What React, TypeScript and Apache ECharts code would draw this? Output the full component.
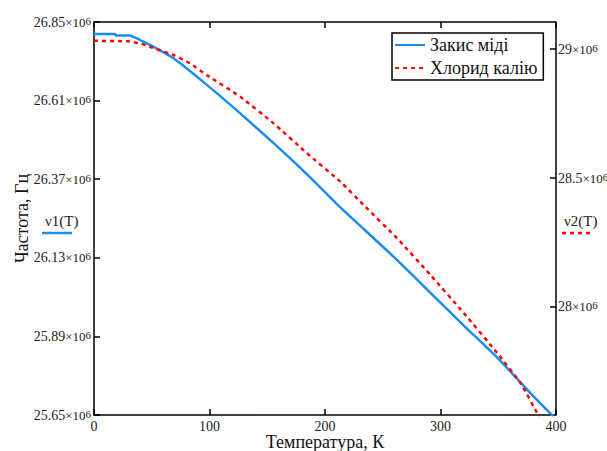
import React, { useEffect, useRef } from "react";
import * as echarts from "echarts";

// Temperature, K
const blueT = [0, 18, 19, 31, 40, 48.6, 68.8, 97.7, 126.6, 155.5, 184.4, 213.3, 233.5, 262.5, 291.3, 320.2, 349.2, 362, 378, 395, 400];
// Закис міді frequency, ×10^6 Hz
const blueV = [26.813, 26.813, 26.809, 26.809, 26.795, 26.78, 26.739, 26.658, 26.571, 26.48, 26.385, 26.284, 26.218, 26.123, 26.023, 25.923, 25.825, 25.777, 25.716, 25.655, 25.636];

const redT = [0, 30, 39.9, 50, 68.8, 83, 97.7, 126.6, 155.5, 184.4, 213.3, 233.5, 262.5, 291.3, 320.2, 349.2, 369.4, 385.3, 392];
// Хлорид калію frequency, ×10^6 Hz
const redV = [29.032, 29.03, 29.022, 29.006, 28.977, 28.945, 28.899, 28.815, 28.712, 28.596, 28.486, 28.395, 28.266, 28.124, 27.976, 27.821, 27.704, 27.575, 27.52];

const xTicks = [0, 100, 200, 300, 400];
const leftTicks = [25.65, 25.89, 26.13, 26.37, 26.61, 26.85];
const rightTicks = [28, 28.5, 29];
const leftRange = [25.65, 26.85];
const rightRange = [27.581, 29.105];

const seriesNames = ["Закис міді", "Хлорид калію"];
const xName = "Температура, К";
const yName = "Частота, Гц";

const SERIF = "'Liberation Serif', 'Times New Roman', serif";
const BLUE = "#1a8cf0";
const RED = "#ff0000";

const richLabel = {
  a: { fontSize: 14, fontFamily: SERIF, color: "#222" },
  b: { fontSize: 13, fontFamily: SERIF, color: "#222" },
  c: { fontSize: 11, fontFamily: SERIF, color: "#222", verticalAlign: "top", lineHeight: 8 },
};

export default function App() {
  const ref = useRef<HTMLDivElement>(null);
  useEffect(() => {
    if (!ref.current) return;
    document.body.style.margin = "0";
    const chart = echarts.init(ref.current, null, { renderer: "svg" });
    const M = 1e6;
    chart.setOption({
      animation: false,
      backgroundColor: "#fff",
      grid: { left: 94, right: 51, top: 22, bottom: 36, containLabel: false, outerBoundsMode: "none" },
      legend: {
        left: 392,
        top: 33,
        orient: "vertical",
        data: seriesNames,
        borderColor: "#000",
        borderWidth: 1.5,
        borderRadius: 0,
        padding: [2, 6, 2, 2],
        itemGap: 3,
        itemWidth: 30,
        itemHeight: 14,
        itemStyle: { opacity: 0 },
        textStyle: { fontSize: 18, fontFamily: SERIF, color: "#111", lineHeight: 20 },
      },
      xAxis: [
        {
          type: "value",
          min: 0,
          max: 400,
          interval: 100,
          name: xName,
          nameLocation: "middle",
          nameGap: 19,
          nameMoveOverlap: false,
          nameTextStyle: { fontSize: 18, fontFamily: SERIF, color: "#111", lineHeight: 16 },
          axisLine: { show: true, lineStyle: { color: "#000", width: 1.5 } },
          axisTick: { show: true, inside: true, length: 6, lineStyle: { color: "#000", width: 1.5 } },
          axisLabel: {
            fontSize: 14,
            fontFamily: SERIF,
            color: "#222",
            margin: 4,
            lineHeight: 14,
            customValues: xTicks,
          },
          splitLine: { show: false },
        },
        {
          type: "value",
          position: "top",
          min: 0,
          max: 400,
          interval: 100,
          axisLine: { show: true, onZero: false, lineStyle: { color: "#000", width: 1.5 } },
          axisTick: { show: true, inside: true, length: 6, lineStyle: { color: "#000", width: 1.5 } },
          axisLabel: { show: false },
          splitLine: { show: false },
        },
      ],
      yAxis: [
        {
          type: "value",
          min: leftRange[0] * M,
          max: leftRange[1] * M,
          name: yName,
          nameLocation: "middle",
          nameGap: 63,
          nameMoveOverlap: false,
          nameRotate: 90,
          nameTextStyle: { fontSize: 18, fontFamily: SERIF, color: "#111", lineHeight: 18 },
          axisLine: { show: true, onZero: false, lineStyle: { color: "#000", width: 1.5 } },
          axisTick: {
            show: true,
            inside: true,
            length: 6,
            lineStyle: { color: "#000", width: 1.5 },
            customValues: leftTicks.map((v) => v * M),
          },
          axisLabel: {
            margin: 3,
            showMinLabel: true,
            showMaxLabel: true,
            customValues: leftTicks.map((v) => v * M),
            formatter: (v: number) => `{a|${(v / M).toFixed(2)}}{b|×10}{c|6}`,
            rich: richLabel,
          },
          splitLine: { show: false },
        },
        {
          type: "value",
          position: "right",
          min: rightRange[0] * M,
          max: rightRange[1] * M,
          axisLine: { show: true, onZero: false, lineStyle: { color: "#000", width: 1.5 } },
          axisTick: {
            show: true,
            inside: true,
            length: 6,
            lineStyle: { color: "#000", width: 1.5 },
            customValues: rightTicks.map((v) => v * M),
          },
          axisLabel: {
            margin: 2,
            customValues: rightTicks.map((v) => v * M),
            formatter: (v: number) => `{a|${parseFloat((v / M).toFixed(2))}}{b|×10}{c|6}`,
            rich: richLabel,
          },
          splitLine: { show: false },
        },
      ],
      series: [
        {
          name: seriesNames[0],
          type: "line",
          xAxisIndex: 0,
          yAxisIndex: 0,
          symbol: "none",
          smooth: 0.15,
          clip: true,
          data: blueT.map((t, i) => [t, blueV[i] * M]),
          lineStyle: { color: BLUE, width: 2.5 },
          itemStyle: { color: BLUE },
        },
        {
          name: seriesNames[1],
          type: "line",
          xAxisIndex: 0,
          yAxisIndex: 1,
          symbol: "none",
          smooth: 0.15,
          clip: true,
          data: redT.map((t, i) => [t, redV[i] * M]),
          lineStyle: { color: RED, width: 2.5, type: [4, 4] },
          itemStyle: { color: RED },
        },
      ],
      graphic: [
        {
          type: "text",
          left: 45,
          top: 213,
          style: { text: "ν1(T)", fontSize: 15, fontFamily: SERIF, fill: "#222" },
        },
        {
          type: "line",
          shape: { x1: 42, y1: 233, x2: 72, y2: 233 },
          style: { stroke: BLUE, lineWidth: 2.5 },
        },
        {
          type: "text",
          left: 564,
          top: 213,
          style: { text: "ν2(T)", fontSize: 15, fontFamily: SERIF, fill: "#222" },
        },
        {
          type: "line",
          shape: { x1: 562, y1: 233, x2: 592, y2: 233 },
          style: { stroke: RED, lineWidth: 2.5, lineDash: [4, 4] },
        },
      ],
    });
    return () => chart.dispose();
  }, []);
  return <div ref={ref} style={{ width: 607, height: 451 }} />;
}
